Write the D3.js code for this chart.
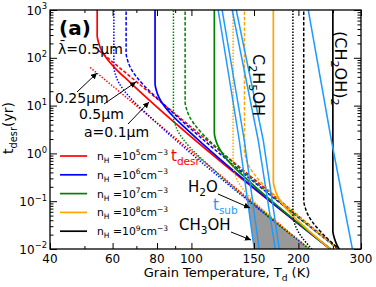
<!DOCTYPE html>
<html>
<head>
<meta charset="utf-8">
<script src="https://cdn.jsdelivr.net/npm/d3@7"></script>
<style>
body { margin: 0; background: #fff; }
svg { display: block; font-family: "DejaVu Sans", sans-serif; }
</style>
</head>
<body>
<div id="chart"></div>
<script>
// axis ticks
const tempTicks = [40, 60, 80, 100, 150, 200, 300];
const tempMinorTicks = [50, 70, 90, 250];
const timeDecades = [-2, -1, 0, 1, 2, 3];

// legend: gas density n_H = 10^k cm^-3
const nHExponents = [5, 6, 7, 8, 9];
const nHColors = ["#ff0000", "#0000ff", "#008000", "#ffa500", "#000000"];

// t_desr curves, [T_d (K), t (yr)], one list per n_H (1e5 .. 1e9)
const tdesrA010 = [
    [[54.3, 2000], [54.3, 287.7], [54.83, 203.2], [55.73, 148.3], [57.56, 100], [61.03, 60.3], [66.82, 31.7], [245.9, 0.01]],
    [[79, 2000], [79, 28.6], [79.77, 20.2], [81.08, 14.7], [83.75, 9.93], [88.79, 5.98], [97.22, 3.15], [245.9, 0.01]],
    [[116, 2000], [116, 2.68], [117.1, 1.89], [119.05, 1.38], [122.97, 0.931], [130.4, 0.561], [142.7, 0.295], [245.9, 0.01]],
    [[170, 2000], [170, 0.2547], [171.7, 0.1799], [174.5, 0.1312], [180.2, 0.0885], [191.1, 0.0533], [209.2, 0.0281], [245.9, 0.01]],
    [[250, 2000], [250, 0.02366], [252.5, 0.01671], [256.6, 0.01219], [265.0, 0.00822], [281.0, 0.00495]]
];
const tdesrA025 = [
    [[51.9, 62.7], [214.6, 0.01]],
    [[60.5, 2000], [60.5, 63.8], [61.09, 45.1], [62.09, 32.9], [64.14, 22.2], [68.0, 13.4], [74.45, 7.03], [214.6, 0.01]],
    [[89, 2000], [89, 5.92], [89.87, 4.18], [91.34, 3.05], [94.35, 2.06], [100.0, 1.24], [109.5, 0.652], [214.6, 0.01]],
    [[131, 2000], [131, 0.547], [132.3, 0.386], [134.4, 0.282], [138.9, 0.190], [147.2, 0.1146], [161.2, 0.0603], [214.6, 0.01]],
    [[193, 2000], [193, 0.0502], [194.9, 0.0355], [198.1, 0.0259], [204.6, 0.0175], [216.9, 0.01052], [237.5, 0.00553]]
];
const tdesrA050 = [
    [[53.5, 166], [259, 0.01]],
    [[65.5, 2000], [65.5, 124.7], [66.14, 88.1], [67.22, 64.3], [69.44, 43.4], [73.62, 26.1], [80.6, 13.7], [259, 0.01]],
    [[96, 2000], [96, 11.8], [96.94, 8.36], [98.52, 6.10], [101.8, 4.11], [107.9, 2.48], [118.1, 1.30], [259, 0.01]],
    [[141, 2000], [141, 1.109], [142.4, 0.783], [144.7, 0.571], [149.5, 0.385], [158.5, 0.232], [173.5, 0.122], [259, 0.01]],
    [[207, 2000], [207, 0.104], [209.0, 0.0735], [212.4, 0.0536], [219.4, 0.0361], [232.6, 0.0218], [254.7, 0.01146], [280, 0.0062]]
];

// thermal sublimation times t_sub
const tsubCH3OH = [[118.9, 1000], [136.3, 1.907], [150.2, 0.01]];
const tsubH2O = [[122.0, 1000], [140.8, 1.907], [155.1, 0.01]];
const tsubC2H5OH = [[130.2, 1000], [154.1, 1.907], [172.1, 0.01]];
const tsubC2H5OHb = [[133.7, 1000], [159.2, 1.907], [176.7, 0.01]];
const tsubCH2OH2 = [[213.2, 1000], [247.5, 1.907], [283.7, 0.01]];

// shaded region between t_sub(CH3OH) and t_desr(0.25um)
const overlapRegion = [[143.5, 0.1195], [150.2, 0.01], [214.6, 0.01]];

const width = 376, height = 287;
const margin = { top: 10, right: 15, bottom: 38, left: 50 };
const plotW = width - margin.left - margin.right,
      plotH = height - margin.top - margin.bottom;

const x = d3.scaleLog().domain([40, 300]).range([margin.left, margin.left + plotW]);
const y = d3.scaleLog().domain([1e-2, 1e3]).range([margin.top + plotH, margin.top]);

const svg = d3.select("#chart")
    .append("svg")
    .attr("width", width)
    .attr("height", height);

const defs = svg.append("defs");
defs.append("clipPath").attr("id", "plotclip")
    .append("rect")
    .attr("x", margin.left).attr("y", margin.top)
    .attr("width", plotW).attr("height", plotH);
defs.append("marker")
    .attr("id", "head")
    .attr("viewBox", "0 0 10 10")
    .attr("refX", 10).attr("refY", 5)
    .attr("markerWidth", 6).attr("markerHeight", 6)
    .attr("markerUnits", "userSpaceOnUse")
    .attr("orient", "auto")
    .append("path").attr("d", "M0,0L10,5L0,10z").attr("fill", "#000");

// text with sub/superscripts
function richText(sel, px, py, parts, size) {
    const t = sel.append("text").attr("x", px).attr("y", py).attr("font-size", size);
    let shift = 0;
    parts.forEach(([s, kind]) => {
        const target = kind === "sup" ? -0.42 * size : kind === "sub" ? 0.28 * size : 0;
        t.append("tspan")
            .attr("dy", target - shift)
            .attr("font-size", kind ? size * 0.7 : size)
            .text(s);
        shift = target;
    });
    return t;
}

const plot = svg.append("g").attr("clip-path", "url(#plotclip)");

plot.append("path")
    .datum(overlapRegion)
    .attr("fill", "#999999")
    .attr("d", d3.line().x(d => x(d[0])).y(d => y(d[1])));

const curveLine = d3.line()
    .x(d => x(d[0]))
    .y(d => y(d[1]))
    .curve(d3.curveMonotoneY);

const sizeStyles = [
    { data: tdesrA010, dash: null, w: 1.7 },
    { data: tdesrA050, dash: "3.5,1.8", w: 1.5 },
    { data: tdesrA025, dash: "1.4,1.6", w: 1.5 }
];

nHColors.forEach((c, i) => {
    sizeStyles.forEach(s => {
        plot.append("path")
            .datum(s.data[i])
            .attr("fill", "none")
            .attr("stroke", c)
            .attr("stroke-width", s.w)
            .attr("stroke-dasharray", s.dash)
            .attr("d", curveLine);
    });
});

const subLine = d3.line().x(d => x(d[0])).y(d => y(d[1]));
[tsubCH3OH, tsubH2O, tsubC2H5OH, tsubC2H5OHb, tsubCH2OH2].forEach(d => {
    plot.append("path")
        .datum(d)
        .attr("fill", "none")
        .attr("stroke", "#1e9bff")
        .attr("stroke-width", 1.5)
        .attr("d", subLine);
});

// axes: inward ticks on all four sides
function ticksOnly(axis) {
    return g => {
        g.call(axis);
        g.select(".domain").remove();
        g.selectAll("text").remove();
        g.selectAll("line").attr("stroke", "#000").attr("stroke-width", 1);
    };
}
const yMinor = [];
d3.range(-2, 3).forEach(k => d3.range(2, 10).forEach(m => yMinor.push(m * Math.pow(10, k))));

svg.append("g").attr("transform", `translate(0,${margin.top + plotH})`)
    .call(ticksOnly(d3.axisBottom(x).tickValues(tempTicks).tickSizeInner(-6).tickSizeOuter(0)));
svg.append("g").attr("transform", `translate(0,${margin.top + plotH})`)
    .call(ticksOnly(d3.axisBottom(x).tickValues(tempMinorTicks).tickSizeInner(-3).tickSizeOuter(0)));
svg.append("g").attr("transform", `translate(0,${margin.top})`)
    .call(ticksOnly(d3.axisTop(x).tickValues(tempTicks).tickSizeInner(-6).tickSizeOuter(0)));
svg.append("g").attr("transform", `translate(0,${margin.top})`)
    .call(ticksOnly(d3.axisTop(x).tickValues(tempMinorTicks).tickSizeInner(-3).tickSizeOuter(0)));
svg.append("g").attr("transform", `translate(${margin.left},0)`)
    .call(ticksOnly(d3.axisLeft(y).tickValues(timeDecades.map(k => Math.pow(10, k))).tickSizeInner(-7).tickSizeOuter(0)));
svg.append("g").attr("transform", `translate(${margin.left},0)`)
    .call(ticksOnly(d3.axisLeft(y).tickValues(yMinor).tickSizeInner(-3.5).tickSizeOuter(0)));
svg.append("g").attr("transform", `translate(${margin.left + plotW},0)`)
    .call(ticksOnly(d3.axisRight(y).tickValues(timeDecades.map(k => Math.pow(10, k))).tickSizeInner(-7).tickSizeOuter(0)));
svg.append("g").attr("transform", `translate(${margin.left + plotW},0)`)
    .call(ticksOnly(d3.axisRight(y).tickValues(yMinor).tickSizeInner(-3.5).tickSizeOuter(0)));

svg.append("rect")
    .attr("x", margin.left).attr("y", margin.top)
    .attr("width", plotW).attr("height", plotH)
    .attr("fill", "none").attr("stroke", "#000").attr("stroke-width", 1.3);

// tick labels
svg.append("g").selectAll("text")
    .data(tempTicks)
    .join("text")
    .attr("x", d => x(d))
    .attr("y", margin.top + plotH + 14)
    .attr("text-anchor", "middle")
    .attr("font-size", 12)
    .text(d => d);

const yLabels = svg.append("g").attr("text-anchor", "end");
timeDecades.forEach(k => {
    richText(yLabels, margin.left - 3, y(Math.pow(10, k)) + 4.5,
        [["10", null], [k < 0 ? "\u2212" + (-k) : String(k), "sup"]], 12);
});

// axis titles
richText(svg, 227, 277, [["Grain Temperature, T", null], ["d", "sub"], [" (K)", null]], 13)
    .attr("text-anchor", "middle");
richText(svg.append("g").attr("transform", "translate(13,128) rotate(-90)"), 0, 0,
    [["t", null], ["desr", "sub"], ["(yr)", null]], 14)
    .attr("text-anchor", "middle");

// legend
const legend = svg.append("g");
nHExponents.forEach((e, i) => {
    const ly = 156 + i * 18.8;
    legend.append("line")
        .attr("x1", 60).attr("x2", 87)
        .attr("y1", ly).attr("y2", ly)
        .attr("stroke", nHColors[i]).attr("stroke-width", 1.7);
    richText(legend, 97, ly + 4,
        [["n", null], ["H", "sub"], [" =10", null], [String(e), "sup"], ["cm", null], ["\u22123", "sup"]], 10.8);
});

// annotations
svg.append("text").attr("x", 59).attr("y", 35)
    .attr("font-size", 20).attr("font-weight", "bold").text("(a)");
svg.append("text").attr("x", 58).attr("y", 54).attr("font-size", 14).text("\u03bb\u0304=0.5\u03bcm");
svg.append("text").attr("x", 55).attr("y", 103).attr("font-size", 14).text("0.25\u03bcm");
svg.append("text").attr("x", 79).attr("y", 119).attr("font-size", 14).text("0.5\u03bcm");
svg.append("text").attr("x", 84).attr("y", 137).attr("font-size", 14).text("a=0.1\u03bcm");

richText(svg, 171, 161, [["t", null], ["desr", "sub"]], 15).attr("fill", "#ff0000");
richText(svg, 213, 210, [["t", null], ["sub", "sub"]], 15).attr("fill", "#1e9bff");
richText(svg, 188, 192, [["H", null], ["2", "sub"], ["O", null]], 15);
richText(svg, 179, 230, [["CH", null], ["3", "sub"], ["OH", null]], 15);
richText(svg.append("g").attr("transform", "translate(253,54) rotate(90)"), 0, 0,
    [["C", null], ["2", "sub"], ["H", null], ["5", "sub"], ["OH", null]], 16);
richText(svg.append("g").attr("transform", "translate(335,31) rotate(90)"), 0, 0,
    [["(CH", null], ["2", "sub"], ["OH)", null], ["2", "sub"]], 16);

const arrows = [[77, 92, 97, 73], [104, 104, 136, 82], [128, 124, 149, 102],
                [218, 194, 250, 208], [231, 232, 251, 240]];
svg.append("g").selectAll("line")
    .data(arrows)
    .join("line")
    .attr("x1", d => d[0]).attr("y1", d => d[1])
    .attr("x2", d => d[2]).attr("y2", d => d[3])
    .attr("stroke", "#000").attr("stroke-width", 1)
    .attr("marker-end", "url(#head)");
</script>
</body>
</html>
